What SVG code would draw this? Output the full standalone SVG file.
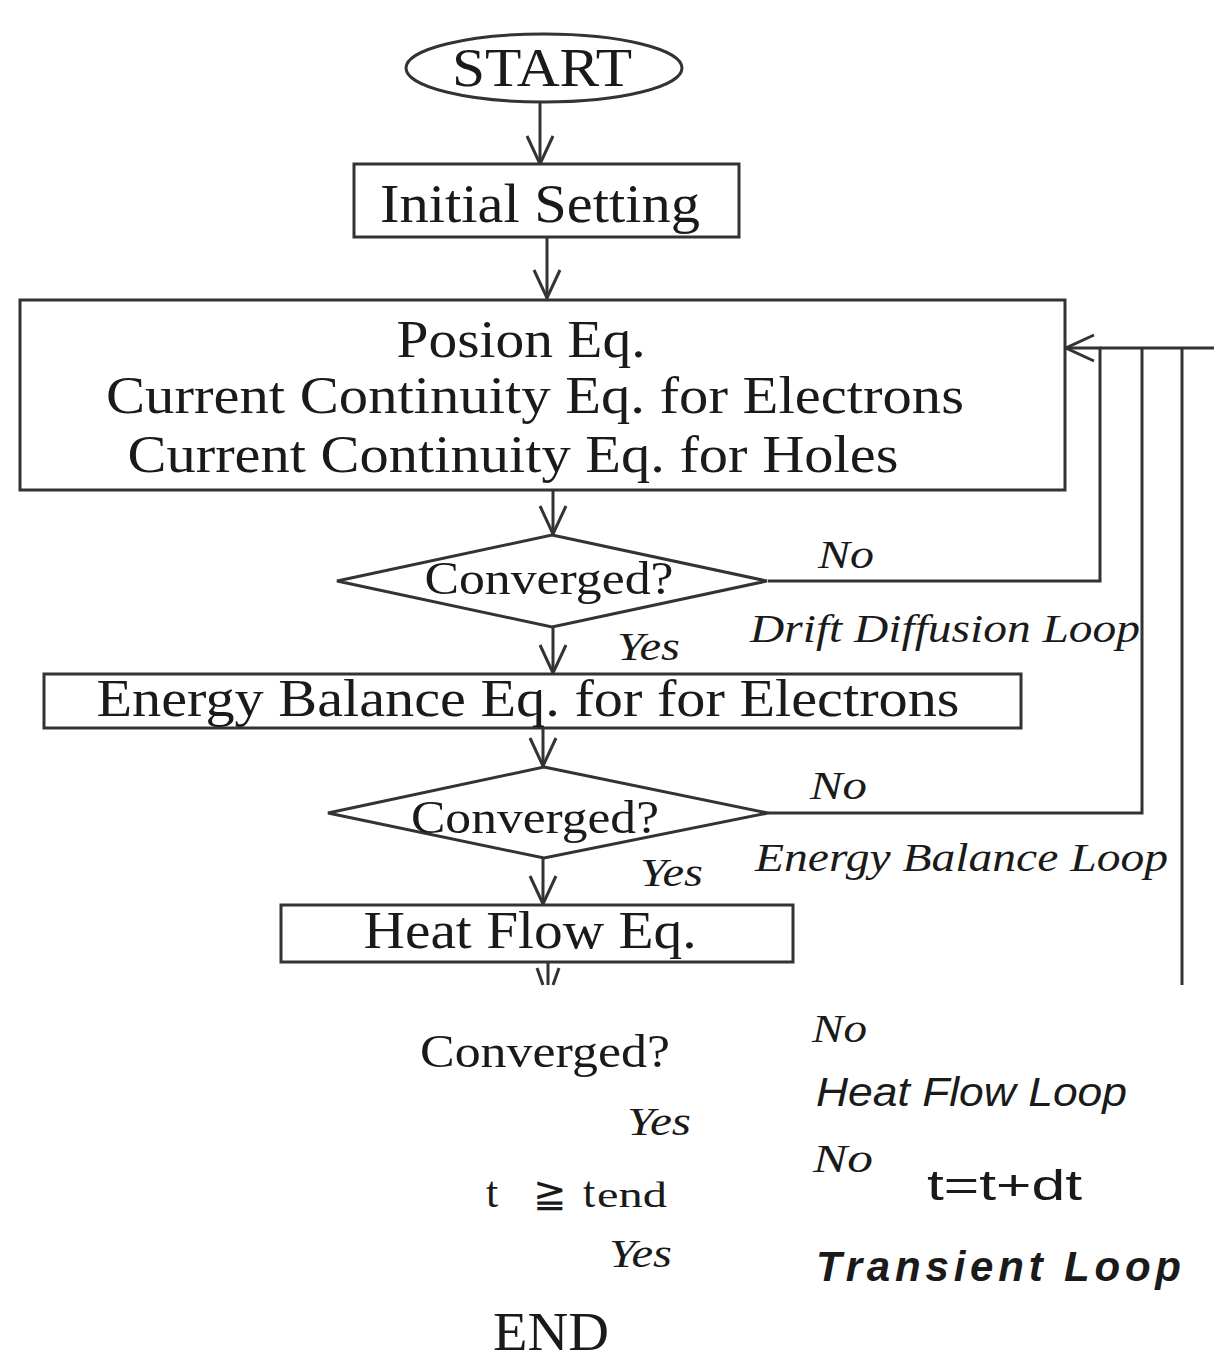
<svg xmlns="http://www.w3.org/2000/svg" width="1214" height="1361" viewBox="0 0 1214 1361">
<style>
.shape{fill:#fff;stroke:#333;stroke-width:3}
.ln{fill:none;stroke:#333;stroke-width:3}
.t{font-family:"Liberation Serif","Times New Roman",serif;fill:#1a1a1a}
.i{font-family:"Liberation Serif","Times New Roman",serif;font-style:italic;fill:#1a1a1a;font-size:40px}
.s{font-family:"Liberation Sans",Arial,sans-serif;fill:#1a1a1a}
</style>
<defs>
<marker id="ah" markerUnits="userSpaceOnUse" viewBox="0 0 30 30" refX="29" refY="15" markerWidth="30" markerHeight="30" orient="auto">
<path d="M1,2 L29,15 L1,28" fill="none" stroke="#333" stroke-width="3"/>
</marker>
</defs>
<rect width="1214" height="1361" fill="#fff"/>
<g id="connectors">
<path class="ln" d="M540,102 V164" marker-end="url(#ah)"/>
<path class="ln" d="M547,237 V298" marker-end="url(#ah)"/>
<path class="ln" d="M553,490 V534" marker-end="url(#ah)"/>
<path class="ln" d="M553,627 V673" marker-end="url(#ah)"/>
<path class="ln" d="M543,728 V766" marker-end="url(#ah)"/>
<path class="ln" d="M543,858 V904" marker-end="url(#ah)"/>
<path class="ln" d="M548,962 V985 M537,968 L543,985 M559,968 L553,985"/>
<path class="ln" d="M768,581 H1100 V348 H1066" marker-end="url(#ah)"/>
<path class="ln" d="M1100,348 H1214"/>
<path class="ln" d="M768,813 H1142 V348"/>
<path class="ln" d="M1182,348 V985"/>
</g>
<g id="start">
<ellipse class="shape" cx="544" cy="68" rx="138" ry="34"/>
<text class="t" x="542" y="86" font-size="54" text-anchor="middle" textLength="180" lengthAdjust="spacingAndGlyphs">START</text>
</g>
<g id="initial">
<rect class="shape" x="354" y="164" width="385" height="73"/>
<text class="t" x="540" y="222" font-size="55" text-anchor="middle" textLength="320" lengthAdjust="spacingAndGlyphs">Initial Setting</text>
</g>
<g id="poisson">
<rect class="shape" x="20" y="300" width="1045" height="190"/>
<text class="t" x="521" y="357" font-size="53" text-anchor="middle" textLength="249" lengthAdjust="spacingAndGlyphs">Posion Eq.</text>
<text class="t" x="535" y="413" font-size="53" text-anchor="middle" textLength="858" lengthAdjust="spacingAndGlyphs">Current Continuity Eq. for Electrons</text>
<text class="t" x="513" y="472" font-size="53" text-anchor="middle" textLength="771" lengthAdjust="spacingAndGlyphs">Current Continuity Eq. for Holes</text>
</g>
<g id="conv1">
<polygon class="shape" points="552,535 767,581 552,627 337,581"/>
<text class="t" x="549" y="594" font-size="46" text-anchor="middle" textLength="249" lengthAdjust="spacingAndGlyphs">Converged?</text>
<text class="i" x="818" y="568" textLength="56" lengthAdjust="spacingAndGlyphs">No</text>
<text class="i" x="750" y="642" textLength="390" lengthAdjust="spacingAndGlyphs">Drift Diffusion Loop</text>
<text class="i" x="617" y="660" textLength="63" lengthAdjust="spacingAndGlyphs">Yes</text>
</g>
<g id="energy">
<rect class="shape" x="44" y="674" width="977" height="54"/>
<text class="t" x="528" y="716" font-size="53" text-anchor="middle" textLength="863" lengthAdjust="spacingAndGlyphs">Energy Balance Eq. for for Electrons</text>
</g>
<g id="conv2">
<polygon class="shape" points="544,767 768,813 544,858 328,813"/>
<text class="t" x="535" y="833" font-size="46" text-anchor="middle" textLength="248" lengthAdjust="spacingAndGlyphs">Converged?</text>
<text class="i" x="810" y="799" textLength="57" lengthAdjust="spacingAndGlyphs">No</text>
<text class="i" x="755" y="871" textLength="413" lengthAdjust="spacingAndGlyphs">Energy Balance Loop</text>
<text class="i" x="640" y="886" textLength="63" lengthAdjust="spacingAndGlyphs">Yes</text>
</g>
<g id="heat">
<rect class="shape" x="281" y="905" width="512" height="57"/>
<text class="t" x="530" y="948" font-size="52" text-anchor="middle" textLength="333" lengthAdjust="spacingAndGlyphs">Heat Flow Eq.</text>
</g>
<g id="conv3">
<text class="t" x="545" y="1067" font-size="46" text-anchor="middle" textLength="250" lengthAdjust="spacingAndGlyphs">Converged?</text>
<text class="i" x="812" y="1042" textLength="55" lengthAdjust="spacingAndGlyphs">No</text>
<text class="s" x="816" y="1106" font-size="40" font-style="italic" textLength="311" lengthAdjust="spacingAndGlyphs">Heat Flow Loop</text>
<text class="i" x="627" y="1135" textLength="64" lengthAdjust="spacingAndGlyphs">Yes</text>
</g>
<g id="timecheck">
<text class="t" x="486" y="1207" font-size="44">t</text>
<text class="s" x="533" y="1207" font-size="40">≧</text>
<text class="t" x="583" y="1207" font-size="44">t</text>
<text class="t" x="597" y="1207" font-size="36" textLength="70" lengthAdjust="spacingAndGlyphs">end</text>
<text class="i" x="813" y="1172" textLength="60" lengthAdjust="spacingAndGlyphs">No</text>
<text class="s" x="927" y="1200" font-size="42" textLength="155" lengthAdjust="spacingAndGlyphs">t=t+dt</text>
<text class="i" x="609" y="1267" textLength="63" lengthAdjust="spacingAndGlyphs">Yes</text>
<text class="s" x="816" y="1281" font-size="42" font-style="italic" font-weight="bold" textLength="365" lengthAdjust="spacing">Transient Loop</text>
</g>
<g id="end">
<text class="t" x="551" y="1350" font-size="54" text-anchor="middle" textLength="116" lengthAdjust="spacingAndGlyphs">END</text>
</g>
</svg>
